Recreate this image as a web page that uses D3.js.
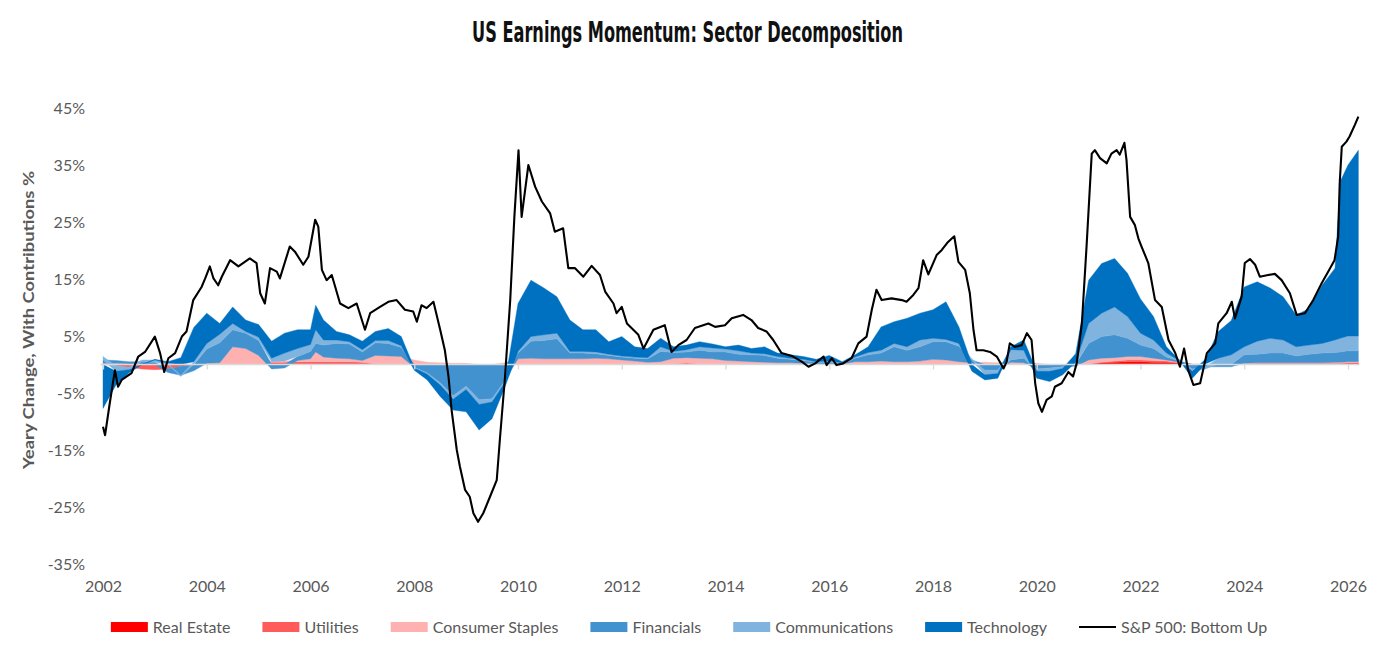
<!DOCTYPE html>
<html>
<head>
<meta charset="utf-8">
<script src="https://cdn.jsdelivr.net/npm/d3@7"></script>
<style>
  body { margin: 0; background: #fff; }
  text { font-family: Lato, "Open Sans", sans-serif; }
</style>
</head>
<body>
<svg id="chart" width="1384" height="664"></svg>
<script>
// sector contributions, % pts (decimal years, roughly quarterly)
var sectorDates = [
	2002.00, 2002.25, 2002.50, 2002.75,
	2003.00, 2003.25, 2003.50, 2003.75,
	2004.00, 2004.25, 2004.50, 2004.75,
	2005.00, 2005.25, 2005.50, 2005.75,
	2006.00, 2006.10, 2006.25, 2006.50, 2006.75,
	2007.00, 2007.25, 2007.50, 2007.75,
	2008.00, 2008.25, 2008.50, 2008.75,
	2009.00, 2009.25, 2009.50, 2009.75,
	2010.00, 2010.25, 2010.50, 2010.75,
	2011.00, 2011.25, 2011.50, 2011.75,
	2012.00, 2012.25, 2012.50, 2012.75,
	2013.00, 2013.25, 2013.50, 2013.75,
	2014.00, 2014.25, 2014.50, 2014.75,
	2015.00, 2015.25, 2015.50, 2015.75,
	2016.00, 2016.25, 2016.50, 2016.75,
	2017.00, 2017.25, 2017.50, 2017.75,
	2018.00, 2018.25, 2018.50, 2018.75,
	2019.00, 2019.25, 2019.50, 2019.75,
	2020.00, 2020.25, 2020.50, 2020.75,
	2021.00, 2021.25, 2021.50, 2021.75,
	2022.00, 2022.25, 2022.50, 2022.75,
	2023.00, 2023.25, 2023.50, 2023.75,
	2024.00, 2024.25, 2024.50, 2024.75,
	2025.00, 2025.25, 2025.50, 2025.75, 2025.85,
	2026.00, 2026.20
]

var realEstate = [
	0, 0, 0, 0,
	0, 0, 0, 0,
	0, 0, 0, 0,
	0, 0, 0, 0,
	0, 0, 0, 0, 0,
	0, 0, 0, 0,
	0, 0, 0, 0,
	0, 0, 0, 0,
	0, 0, 0, 0,
	0, 0, 0, 0,
	0, 0, 0, 0,
	0.1, 0.2, 0.1, 0.1,
	0.1, 0.1, 0.1, 0.1,
	0.1, 0.1, 0.1, 0,
	0, 0, 0.1, 0.1,
	0.1, 0.1, 0.1, 0.1,
	0.1, 0.1, 0.1, 0,
	0, 0, 0, 0,
	0, 0, 0, 0,
	0.1, 0.3, 0.4, 0.5,
	0.5, 0.4, 0.4, 0.2,
	0, 0, 0, 0,
	0, 0.1, 0.1, 0.1,
	0.1, 0.1, 0.1, 0.1, 0.1,
	0.2, 0.2
]

var utilities = [
	0, -0.2, -0.5, -0.8,
	-0.9, -0.8, -0.3, -0.1,
	0, 0, 0, 0,
	0, 0.4, 0.4, 0.5,
	0.5, 0.5, 0.5, 0.5, 0.5,
	0.4, 0.1, 0.1, 0.1,
	0, 0, 0, 0,
	0, 0, 0, 0,
	0, 0, 0, 0,
	0, 0, 0, 0,
	0, 0, 0, 0,
	0, 0, 0, 0,
	0, 0, 0, 0,
	0, 0, 0, 0,
	0, 0, 0, 0,
	0, 0, 0, 0,
	0, 0, 0, 0,
	0, 0, 0, 0,
	0, 0, 0, 0,
	0, 0.1, 0.2, 0.3,
	0.3, 0.3, 0.2, 0.1,
	0, 0, 0, 0,
	0.1, 0.1, 0.1, 0.1,
	0.1, 0.1, 0.1, 0.1, 0.1,
	0.1, 0.1
]

var staples = [
	0.2, 0.2, 0.1, 0,
	0, 0, 0, 0,
	0.2, 0.3, 3.1, 2.8,
	1.6, 0.1, 0.2, 0.2,
	0.5, 1.7, 0.8, 0.6, 0.5,
	0.3, 1.5, 1.4, 1.3,
	0.8, 0.4, 0.3, 0.2,
	0.2, 0, 0, 0.3,
	1.0, 1.1, 1.0, 1.0,
	1.0, 1.0, 1.1, 1.0,
	0.8, 0.6, 0.4, 0.5,
	1.0, 1.0, 1.0, 0.9,
	0.6, 0.5, 0.4, 0.3,
	0.2, 0.2, 0.1, 0.1,
	0.1, 0.1, 0.4, 0.4,
	0.5, 0.4, 0.4, 0.5,
	0.8, 0.7, 0.4, 0.3,
	0.4, 0.3, 0.4, 0.3,
	0.2, 0, 0, 0.2,
	0.7, 0.7, 0.6, 0.6,
	0.6, 0.4, 0.2, 0.1,
	0.1, 0.1, 0.1, 0.1,
	0.1, 0.1, 0.1, 0.1,
	0.1, 0.1, 0.1, 0.2, 0.2,
	0.2, 0.2
]

var financials = [
	0.6, 0.5, 0.4, 0.5,
	0.4, -0.6, -1.6, -1.0,
	2.5, 3.5, 3.0, 2.7,
	2.6, -0.8, -0.6, 0.7,
	1.3, 1.5, 2.1, 2.6, 2.6,
	1.5, 2.2, 2.2, 1.6,
	-0.5, -1.5, -3.2, -5.5,
	-3.8, -6.2, -6.0, -2.8,
	1.0, 3.0, 3.2, 3.5,
	1.0, 1.0, 0.8, 0.6,
	0.5, 0.5, 0.6, 1.8,
	1.0, 1.0, 1.4, 1.2,
	1.5, 1.2, 1.2, 1.2,
	0.8, 0.6, 0.5, 0.3,
	0.3, 0.2, 0.6, 1.2,
	1.4, 2.6, 2.0, 2.5,
	3.1, 3.2, 2.7, 0.5,
	-1.0, -1.0, 0.4, 0.8,
	-0.8, -0.6, -0.4, -0.3,
	2.9, 3.8, 4.0, 3.2,
	2.0, 1.7, 0.5, 0.2,
	-0.8, -0.4, -0.4, -0.4,
	1.5, 1.5, 1.7, 1.7,
	1.2, 1.5, 1.7, 1.7, 1.8,
	1.9, 1.9
]

var communications = [
	0.6, -1.0, -0.4, 0.3,
	0.4, 0.2, -0.2, 0.5,
	1.0, 1.5, 1.1, 0.3,
	0.6, 0.6, 1.4, 1.4,
	1.2, 2.4, 0.9, 0.6, 0.4,
	0.4, 0.4, 0.5, 0.3,
	-0.1, -0.2, -0.4, -0.6,
	-0.6, -0.8, -0.6, -0.3,
	0.3, 0.8, 1.0, 1.0,
	0.3, 0.3, 0.3, 0.2,
	0.2, 0.2, 0.2, 0.8,
	0.2, 0.4, 0.6, 0.7,
	0.5, 0.6, 0.3, 0.3,
	0.3, 0.2, 0.2, 0.1,
	0.2, 0, 0.2, 0.4,
	0.5, 0.6, 0.6, 1.2,
	0.6, 0.4, 0.5, 0.2,
	-0.8, -0.6, 1.8, 1.4,
	-0.4, -0.6, -0.3, 0.2,
	3.5, 4.1, 4.9, 3.8,
	2.1, 1.5, 0.7, 0.1,
	-0.4, -0.4, 1.0, 1.6,
	1.4, 2.3, 2.6, 2.3,
	1.6, 1.6, 1.7, 2.2, 2.4,
	2.6, 2.6
]

var technology = [
	-7.7, -2.4, -0.6, 0,
	0.1, 0.3, 1.2, 6.0,
	5.3, 1.9, 2.9, 2.0,
	2.2, 3.0, 3.5, 3.3,
	2.6, 4.3, 3.5, 1.5, 1.2,
	1.5, 1.6, 2.1, 1.6,
	-0.4, -1.0, -2.0, -1.9,
	-3.9, -4.5, -2.9, -0.8,
	8.4, 9.9, 8.2, 6.4,
	5.5, 3.8, 3.9, 2.2,
	3.4, 1.8, 1.6, 1.5,
	0.8, 0.8, 0.9, 0.7,
	0.4, 1.0, 0.8, 1.2,
	0.6, 0.6, 0.5, 0.4,
	1.0, 0.2, 0.4, 1.0,
	4.1, 3.8, 5.0, 4.7,
	5.0, 6.6, 2.9, -1.2,
	-0.9, -0.8, 0.5, 1.8,
	-1.2, -1.8, -1.1, 1.5,
	7.6, 8.7, 8.5, 7.6,
	6.0, 4.1, 1.1, 0.1,
	-1.2, 0.8, 4.7, 6.0,
	10.5, 10.4, 8.8, 7.6,
	5.6, 6.4, 10.2, 12.6, 27.5,
	30.0, 32.6
]

// S&P 500 bottom-up yearly change, %
var spxDates = [
	2002.00, 2002.04, 2002.13, 2002.23, 2002.29, 2002.36, 2002.55, 2002.68, 2002.81,
	2003.00, 2003.10, 2003.18, 2003.26, 2003.39, 2003.52, 2003.61, 2003.74, 2003.90, 2003.97,
	2004.06, 2004.13, 2004.22, 2004.29, 2004.45, 2004.61, 2004.83, 2004.96,
	2005.03, 2005.12, 2005.22, 2005.35, 2005.41, 2005.60, 2005.70, 2005.86, 2005.96,
	2006.09, 2006.15, 2006.22, 2006.31, 2006.41, 2006.57, 2006.73, 2006.89,
	2007.05, 2007.15, 2007.34, 2007.50, 2007.66, 2007.82, 2007.98,
	2008.05, 2008.14, 2008.24, 2008.37, 2008.50, 2008.59, 2008.66, 2008.72, 2008.82, 2008.88, 2008.98,
	2009.07, 2009.14, 2009.23, 2009.33, 2009.46, 2009.59, 2009.65, 2009.75, 2009.85, 2009.93,
	2010.01, 2010.07, 2010.20, 2010.33, 2010.46, 2010.62, 2010.71, 2010.87, 2010.97,
	2011.10, 2011.26, 2011.42, 2011.58, 2011.68, 2011.84, 2011.90,
	2012.00, 2012.10, 2012.32, 2012.42, 2012.61, 2012.83, 2012.96,
	2013.09, 2013.25, 2013.41, 2013.67, 2013.80, 2013.99,
	2014.12, 2014.34, 2014.50, 2014.63, 2014.79, 2014.92,
	2015.08, 2015.28, 2015.47, 2015.60, 2015.73, 2015.89, 2015.95,
	2016.05, 2016.14, 2016.27, 2016.43, 2016.56, 2016.72, 2016.82, 2016.91,
	2017.01, 2017.20, 2017.40, 2017.49, 2017.62, 2017.72, 2017.81, 2017.91,
	2018.07, 2018.17, 2018.29, 2018.41, 2018.49, 2018.62, 2018.71, 2018.78, 2018.84, 2018.97,
	2019.10, 2019.23, 2019.36, 2019.42, 2019.48, 2019.58, 2019.71, 2019.81, 2019.90, 2019.97,
	2020.03, 2020.10, 2020.19, 2020.29, 2020.35, 2020.48, 2020.61, 2020.70, 2020.77, 2020.87, 2020.96,
	2021.06, 2021.12, 2021.22, 2021.35, 2021.44, 2021.54, 2021.60, 2021.69, 2021.73, 2021.80, 2021.89, 2021.96,
	2022.02, 2022.15, 2022.28, 2022.41, 2022.54, 2022.67, 2022.76, 2022.84, 2022.92,
	2023.02, 2023.15, 2023.28, 2023.44, 2023.50, 2023.66, 2023.76, 2023.82, 2023.95,
	2024.01, 2024.11, 2024.21, 2024.30, 2024.46, 2024.59, 2024.72, 2024.88,
	2025.01, 2025.17, 2025.33, 2025.49, 2025.62, 2025.74, 2025.81, 2025.84, 2025.88, 2025.97,
	2026.03, 2026.13, 2026.20
]

var spxValues = [
	-10.9, -12.4, -6.8, -1.0, -3.9, -2.7, -1.5, 1.4, 2.2,
	4.9, 2.0, -1.3, 1.1, 2.0, 4.9, 5.8, 11.3, 13.6, 15.1,
	17.2, 15.1, 13.9, 15.4, 18.3, 17.2, 18.6, 17.8,
	12.5, 10.7, 16.9, 16.3, 15.1, 20.7, 19.8, 17.5, 18.9,
	25.4, 24.2, 16.6, 14.8, 15.7, 10.7, 9.9, 10.7,
	6.1, 9.0, 10.1, 11.0, 11.3, 9.6, 9.3,
	7.5, 10.4, 9.9, 11.0, 6.1, 2.5, -2.1, -8.0, -15.0, -17.9, -22.0,
	-23.2, -26.1, -27.6, -26.1, -23.2, -20.3, -13.2, -2.1, 11.3, 25.9,
	37.6, 25.9, 35.0, 31.2, 28.6, 26.5, 23.3, 23.9, 16.9,
	16.9, 15.4, 17.3, 15.7, 12.8, 10.7, 9.0,
	10.1, 7.2, 5.2, 2.8, 6.1, 6.9, 2.2,
	3.4, 4.3, 6.4, 7.2, 6.6, 6.9,
	8.1, 8.7, 7.8, 6.4, 5.8, 4.3,
	2.0, 1.5, 0.5, -0.4, 0.2, 1.4, -0.1,
	1.1, -0.1, 0.2, 1.1, 3.7, 4.9, 9.6, 13.1,
	11.3, 11.6, 11.3, 11.0, 12.2, 13.4, 18.3, 15.8,
	19.2, 20.1, 21.5, 22.5, 18.0, 16.6, 12.5, 6.1, 2.5, 2.5,
	2.2, 1.4, -0.7, 0.5, 3.7, 3.1, 3.4, 5.5, 4.3, -3.3,
	-6.8, -8.3, -6.2, -5.6, -3.9, -3.3, -1.3, -2.1, 0.2, 7.2, 20.7,
	37.0, 37.6, 36.2, 35.3, 37.0, 37.6, 36.8, 38.9, 35.9, 25.9, 24.5, 22.1,
	20.7, 17.8, 11.3, 10.1, 4.3, 2.0, -0.4, 2.8, -1.0,
	-3.6, -3.3, 2.0, 3.7, 7.2, 9.0, 11.0, 8.1, 11.9,
	17.8, 18.5, 17.5, 15.4, 15.7, 15.9, 14.8, 12.5,
	8.7, 9.0, 11.3, 14.2, 16.3, 18.3, 22.4, 31.8, 38.2, 39.1,
	40.0, 42.0, 43.5
]

var labels = ['Real Estate', 'Utilities', 'Consumer Staples', 'Financials', 'Communications', 'Technology']
var sectorValues = [realEstate, utilities, staples, financials, communications, technology]
var colors = ['#FF0000', '#FF5B5B', '#FFB1B1', '#4292D0', '#80B4DF', '#0070C0']
var lineLabel = 'S&P 500: Bottom Up'

var yTicks = [-35, -25, -15, -5, 5, 15, 25, 35, 45]
var xTicks = [2002, 2004, 2006, 2008, 2010, 2012, 2014, 2016, 2018, 2020, 2022, 2024, 2026]

var svg = d3.select('#chart')

var x = d3.scaleLinear()
	.domain([2002, 2026])
	.range([103, 1348])

var y = d3.scaleLinear()
	.domain([-35, 45])
	.range([564, 108])

// build rows for the stack
var table = sectorDates.map(function(t, i) {
	var row = {date: t}
	labels.forEach(function(k, j) { row[k] = sectorValues[j][i] })
	return row
})

var series = d3.stack()
	.keys(labels)
	.offset(d3.stackOffsetDiverging)(table)

var color = d3.scaleOrdinal().domain(labels).range(colors)

var area = d3.area()
	.x(d => x(d.data.date))
	.y0(d => y(d[0]))
	.y1(d => y(d[1]))

svg.append('g')
	.selectAll('path')
	.data(series)
	.enter()
	.append('path')
		.attr('d', area)
		.attr('fill', d => color(d.key))
		.attr('stroke', d => color(d.key))
		.attr('stroke-width', 0.4)

// zero line with small year ticks
svg.append('line')
	.attr('x1', x(2001.95)).attr('x2', x(2026.22))
	.attr('y1', y(0)).attr('y2', y(0))
	.attr('stroke', '#D9D9D9')
	.attr('stroke-width', 1.3)

var zeroTicks = svg.append('g')
	.attr('transform', 'translate(0,' + y(0) + ')')
	.call(d3.axisBottom(x).tickValues(xTicks).tickSize(5).tickFormat(''))
zeroTicks.select('.domain').remove()
zeroTicks.selectAll('line').attr('stroke', '#D9D9D9').attr('stroke-width', 1.3)

// S&P line
var line = d3.line()
	.x((d, i) => x(spxDates[i]))
	.y(d => y(d))

svg.append('path')
	.datum(spxValues)
	.attr('d', line)
	.attr('fill', 'none')
	.attr('stroke', '#000')
	.attr('stroke-width', 2.1)
	.attr('stroke-linejoin', 'round')

// axes (labels only)
var yAxis = svg.append('g')
	.attr('transform', 'translate(85,0)')
	.call(d3.axisLeft(y).tickValues(yTicks).tickFormat(d => d + '%').tickSize(0).tickPadding(0))
yAxis.select('.domain').remove()
yAxis.selectAll('text')
	.attr('fill', '#595959')
	.style('font-size', '16px')
	.style('font-family', 'Lato, "Open Sans", sans-serif')

var xAxis = svg.append('g')
	.attr('transform', 'translate(0,577)')
	.call(d3.axisBottom(x).tickValues(xTicks).tickFormat(d3.format('d')).tickSize(0).tickPadding(4))
xAxis.select('.domain').remove()
xAxis.selectAll('text')
	.attr('fill', '#595959')
	.style('font-size', '16px')
	.style('font-family', 'Lato, "Open Sans", sans-serif')

// title
svg.append('text')
	.attr('x', 687.5)
	.attr('y', 42)
	.attr('text-anchor', 'middle')
	.attr('textLength', 431)
	.attr('lengthAdjust', 'spacingAndGlyphs')
	.style('font-family', '"DejaVu Sans Condensed", "Liberation Sans Narrow", sans-serif')
	.style('font-weight', 'bold')
	.style('font-size', '29px')
	.attr('fill', '#111')
	.text('US Earnings Momentum: Sector Decomposition')

// y axis title
svg.append('text')
	.attr('transform', 'translate(34,320) rotate(-90)')
	.attr('text-anchor', 'middle')
	.attr('textLength', 298)
	.attr('lengthAdjust', 'spacingAndGlyphs')
	.style('font-weight', 'bold')
	.style('font-size', '16px')
	.attr('fill', '#595959')
	.text('Yeary Change, With Contributions %')

// legend, centred flow
var legend = svg.append('g')
var items = labels.map((k, i) => ({name: k, color: colors[i], kind: 'area'}))
items.push({name: lineLabel, color: '#000', kind: 'line'})

var cx = 0
items.forEach(function(it) {
	var g = legend.append('g').attr('transform', 'translate(' + cx + ',0)')
	if (it.kind == 'area') {
		g.append('rect')
			.attr('x', 0).attr('y', -5)
			.attr('width', 37).attr('height', 10)
			.attr('fill', it.color)
	} else {
		g.append('line')
			.attr('x1', 0).attr('x2', 37)
			.attr('y1', 0).attr('y2', 0)
			.attr('stroke', '#000').attr('stroke-width', 2.1)
	}
	var t = g.append('text')
		.attr('x', 42).attr('y', 0)
		.attr('dy', '0.35em')
		.attr('fill', '#595959')
		.style('font-size', '16px')
		.text(it.name)
	cx += 42 + t.node().getComputedTextLength() + 32
})
var legendWidth = cx - 32
legend.attr('transform', 'translate(' + (689 - legendWidth / 2) + ',627)')
</script>
</body>
</html>
